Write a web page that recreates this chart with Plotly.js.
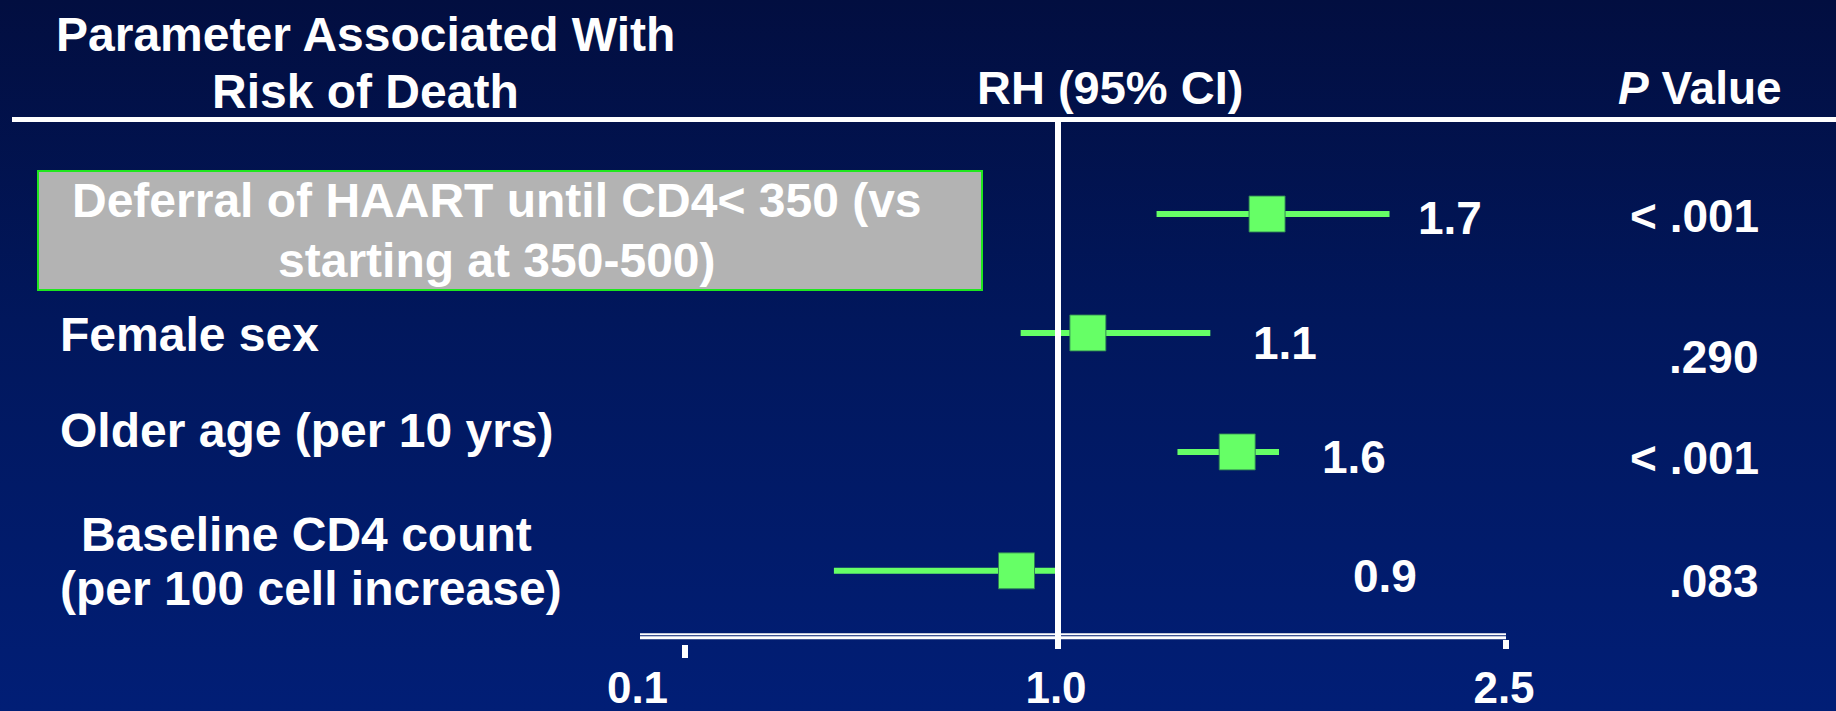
<!DOCTYPE html>
<html>
<head>
<meta charset="utf-8">
<script src="https://cdn.plot.ly/plotly-3.0.1.min.js"></script>
<style>
  html, body {
    margin: 0; padding: 0; width: 1836px; height: 711px; overflow: hidden;
    background: linear-gradient(180deg, #020e40 0%, #01175c 45%, #011e76 100%);
  }
  #chart { width: 1836px; height: 711px; }
</style>
</head>
<body>
<div id="chart"></div>
<script>
// ---- Data: relative hazard (RH) of death with 95% confidence limits ----
const parameterLines = [
  ["Deferral of HAART until CD4< 350 (vs", "starting at 350-500)"],
  ["Female sex"],
  ["Older age (per 10 yrs)"],
  ["Baseline CD4 count", "(per 100 cell increase)"]
];
const rh      = [1.7, 1.1, 1.6, 0.9];
const ciLow   = [1.33, 0.91, 1.40, 0.46];
const ciHigh  = [2.11, 1.51, 1.74, 1.00];
const pValues = ["< .001", ".290", "< .001", ".083"];
const tickValues = [0.1, 1.0, 2.5];
const NULL_RH = 1.0;   // line of no effect; the two scale segments meet here

// ---- Page geometry ----
const W = 1836, H = 711;
const M = { l: 643, r: 330, t: 123, b: 67 };
const plotW = W - M.l - M.r, plotH = H - M.t - M.b;
const leftSpan = 415;                       // pixels used by the 0 - 1 segment
const split = leftSpan / plotW;             // domain boundary = position of RH 1.0
const px = v => (v - M.l) / plotW;          // page x -> paper x
const py = v => (H - M.b - v) / plotH;      // page y -> paper y

const FONT = "Arial, 'Liberation Sans', Helvetica, sans-serif";
const WHITE = "#ffffff";
const GREEN = "#66ff66";

const n = rh.length;
const rowY = i => n - i;
const axisFor = v => (v < NULL_RH ? "x" : "x2");

// ---- Whiskers, split where the scale changes at RH = 1 ----
const segL = { x: [], y: [] }, segR = { x: [], y: [] };
const ptL = { x: [], y: [] }, ptR = { x: [], y: [] };
for (let i = 0; i < n; i++) {
  const y = rowY(i);
  if (ciLow[i] < NULL_RH) {
    segL.x.push(ciLow[i], Math.min(ciHigh[i], NULL_RH), null);
    segL.y.push(y, y, null);
  }
  if (ciHigh[i] > NULL_RH) {
    segR.x.push(Math.max(ciLow[i], NULL_RH), ciHigh[i], null);
    segR.y.push(y, y, null);
  }
  const pt = rh[i] < NULL_RH ? ptL : ptR;
  pt.x.push(rh[i]); pt.y.push(y);
}

const whiskerStyle = { color: GREEN, width: 6 };
const markerStyle = { symbol: "square", size: 36, color: GREEN,
                      line: { color: "rgba(45,125,85,0.9)", width: 1 } };

const traces = [
  { x: segL.x, y: segL.y, xaxis: "x", yaxis: "y", mode: "lines", line: whiskerStyle, cliponaxis: false },
  { x: segR.x, y: segR.y, xaxis: "x2", yaxis: "y", mode: "lines", line: whiskerStyle, cliponaxis: false },
  { x: ptL.x, y: ptL.y, xaxis: "x", yaxis: "y", mode: "markers", marker: markerStyle, cliponaxis: false },
  { x: ptR.x, y: ptR.y, xaxis: "x2", yaxis: "y", mode: "markers", marker: markerStyle, cliponaxis: false }
];

// ---- Text ----
const txt = (size, extra) => Object.assign({
  showarrow: false, font: { family: FONT, size: size, color: WHITE, weight: 700 }
}, extra);

const annotations = [];

// column headers
annotations.push(txt(48, { text: "Parameter Associated With", xref: "paper", yref: "paper", x: px(365), y: py(34.5), xanchor: "center", yanchor: "middle" }));
annotations.push(txt(48, { text: "Risk of Death", xref: "paper", yref: "paper", x: px(365), y: py(91.5), xanchor: "center", yanchor: "middle" }));
annotations.push(txt(47, { text: "RH (95% CI)", xref: "paper", yref: "paper", x: px(1110), y: py(87.5), xanchor: "center", yanchor: "middle" }));
annotations.push(txt(46, { text: "<i>P</i> Value", xref: "paper", yref: "paper", x: px(1700), y: py(87.5), xanchor: "center", yanchor: "middle" }));

// parameter labels (one annotation per text line)
const labelPlacement = [
  { x: [497, 497], xanchor: "center", shifts: [14, -46] },
  { x: [58],       xanchor: "left",   shifts: [-2] },
  { x: [58],       xanchor: "left",   shifts: [21] },
  { x: [306, 311], xanchor: "center", shifts: [36, -18] }
];
parameterLines.forEach((lines, i) => {
  const p = labelPlacement[i];
  lines.forEach((line, k) => {
    annotations.push(txt(48, { text: line, xref: "paper", yref: "y", x: px(p.x[k]), y: rowY(i),
      xanchor: p.xanchor, yanchor: "middle", yshift: p.shifts[k] }));
  });
});

// RH value next to each interval, and P value column
const rhLabelShift = [26, 41, 41, 293];
const rhLabelLift  = [-4, -10, -5, -5];
const pLabelLift   = [-2, -24, -6, -10];
for (let i = 0; i < n; i++) {
  annotations.push(txt(46, { text: rh[i].toFixed(1), xref: axisFor(ciHigh[i]), yref: "y",
    x: ciHigh[i], y: rowY(i), xanchor: "left", yanchor: "middle",
    xshift: rhLabelShift[i], yshift: rhLabelLift[i] }));
  annotations.push(txt(46, { text: pValues[i], xref: "paper", yref: "y",
    x: px(1761), y: rowY(i), xanchor: "right", yanchor: "middle", yshift: pLabelLift[i] }));
}

// ---- Rules, highlight box and reference line ----
const shapes = [
  // header rule
  { type: "line", xref: "paper", yref: "paper", x0: px(12), x1: px(1836), y0: py(119.5), y1: py(119.5),
    line: { color: WHITE, width: 5 } },
  // highlight box behind the first parameter
  { type: "rect", xref: "paper", yref: "paper", x0: px(38), x1: px(982), y0: py(171), y1: py(290),
    fillcolor: "#b3b3b3", line: { color: "#1fe61f", width: 2 }, layer: "below" },
  // double baseline under the intervals
  { type: "line", xref: "paper", yref: "paper", x0: px(640), x1: 1, y0: py(634.2), y1: py(634.2),
    line: { color: WHITE, width: 2 } },
  { type: "line", xref: "paper", yref: "paper", x0: px(640), x1: 1, y0: py(637.8), y1: py(637.8),
    line: { color: WHITE, width: 3 } },
  // line of no effect, at the boundary between the two scale segments (RH = 1)
  { type: "line", xref: "paper", yref: "paper", x0: split, x1: split, y0: py(648), y1: py(122),
    line: { color: WHITE, width: 6 } }
];

const tickFont = { family: FONT, size: 44, color: WHITE, weight: 700 };
const baseAxis = {
  showgrid: false, zeroline: false, showline: false, fixedrange: true,
  ticks: "outside", tickcolor: WHITE, tickwidth: 6, tickfont: tickFont, tickformat: ".1f",
  tickmode: "array"
};

const layout = {
  width: W, height: H,
  margin: M,
  paper_bgcolor: "rgba(0,0,0,0)",
  plot_bgcolor: "rgba(0,0,0,0)",
  showlegend: false,
  hovermode: false,
  xaxis: Object.assign({}, baseAxis, {
    domain: [0, split], range: [0, NULL_RH], anchor: "y",
    tickvals: tickValues.filter(v => v < NULL_RH),
    ticklen: 13, ticklabelshift: -47, ticklabelstandoff: -8
  }),
  xaxis2: Object.assign({}, baseAxis, {
    domain: [split, 1], range: [NULL_RH, 2.5], anchor: "free", position: py(639.3),
    tickvals: tickValues.filter(v => v >= NULL_RH),
    ticklen: 9, ticklabelshift: -2, ticklabelstandoff: 1
  }),
  yaxis: {
    range: [0.385, 4.765], showgrid: false, zeroline: false, showline: false,
    showticklabels: false, ticks: "", fixedrange: true
  },
  shapes: shapes,
  annotations: annotations
};

Plotly.newPlot("chart", traces, layout, { staticPlot: true, displayModeBar: false });
</script>
</body>
</html>
